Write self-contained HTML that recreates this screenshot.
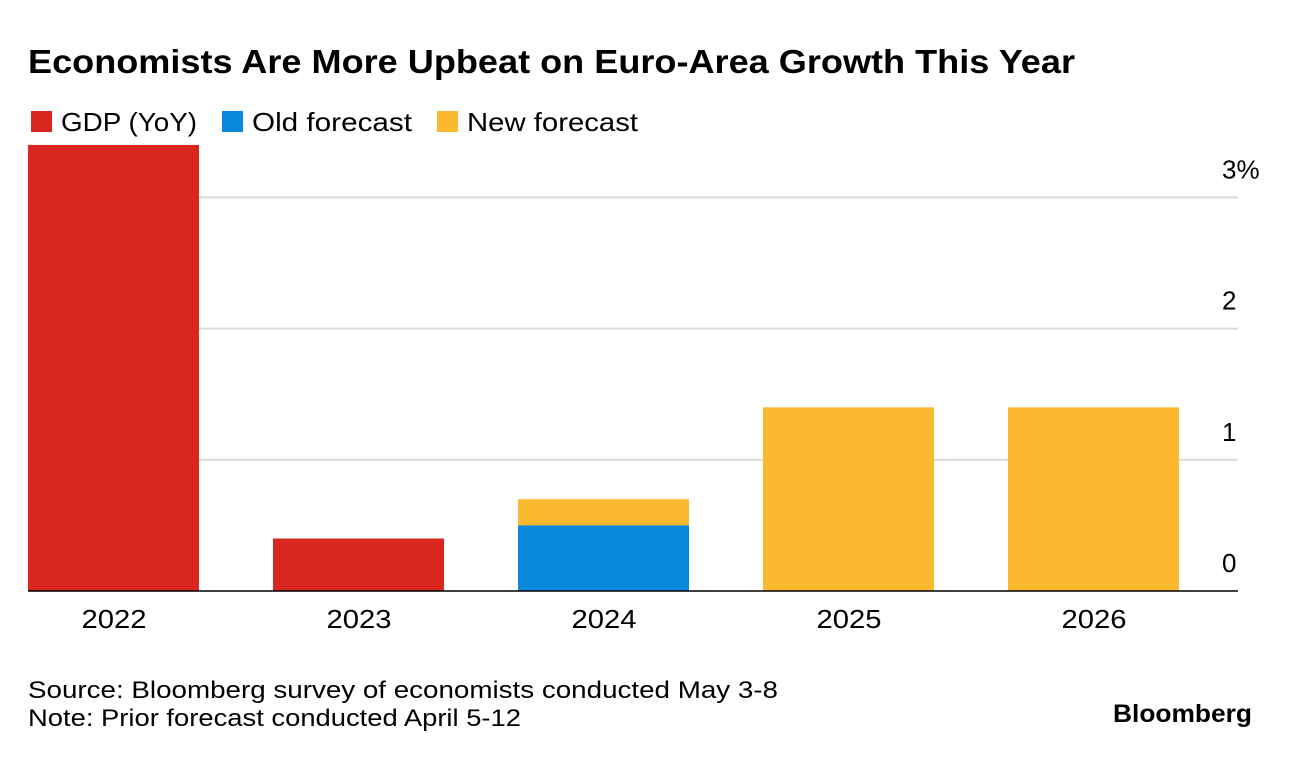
<!DOCTYPE html>
<html><head><meta charset="utf-8">
<style>
body{margin:0;background:#fff;width:1292px;height:756px;overflow:hidden;font-family:"Liberation Sans",sans-serif;}
</style></head>
<body>
<svg width="1292" height="756" xmlns="http://www.w3.org/2000/svg" font-family="Liberation Sans, sans-serif">
<text x="28" y="73" font-size="33" font-weight="bold" fill="#000" textLength="1047" lengthAdjust="spacingAndGlyphs">Economists Are More Upbeat on Euro-Area Growth This Year</text>
<g>
<rect x="31" y="111" width="21" height="21" fill="#d9261e"/>
<text x="61" y="131" font-size="26" fill="#000" textLength="136" lengthAdjust="spacingAndGlyphs">GDP (YoY)</text>
<rect x="222" y="111" width="21" height="21" fill="#0a88dd"/>
<text x="252" y="131" font-size="26" fill="#000" textLength="160" lengthAdjust="spacingAndGlyphs">Old forecast</text>
<rect x="437" y="111" width="21" height="21" fill="#fbb930"/>
<text x="467" y="131" font-size="26" fill="#000" textLength="171" lengthAdjust="spacingAndGlyphs">New forecast</text>
</g>
<g id="grid"></g>
<g id="bars"></g>
<line x1="28" x2="1238" y1="591" y2="591" stroke="#000" stroke-width="1.5"/>
<g id="xl"></g>
<text x="28" y="698" font-size="24" fill="#000" textLength="750" lengthAdjust="spacingAndGlyphs">Source: Bloomberg survey of economists conducted May 3-8</text>
<text x="28" y="726" font-size="24" fill="#000" textLength="493" lengthAdjust="spacingAndGlyphs">Note: Prior forecast conducted April 5-12</text>
<text x="1113" y="722" font-size="25" font-weight="bold" fill="#000" textLength="139" lengthAdjust="spacingAndGlyphs">Bloomberg</text>
</svg>
<script>
const years=["2022","2023","2024","2025","2026"];
const gdp=[3.4,0.4,null,null,null];
const oldF=[null,null,0.5,null,null];
const newF=[null,null,0.7,1.4,1.4];
const ticks=[0,1,2,3];
const tickLabels=["0","1","2","3%"];
const NS="http://www.w3.org/2000/svg";
const y=v=>591-v*131.2;
const x=i=>28+i*245;
const bw=171;
function mk(t,a,p){const e=document.createElementNS(NS,t);for(const k in a)e.setAttribute(k,a[k]);p.appendChild(e);return e;}
const g=document.getElementById('grid');
ticks.forEach((t,i)=>{
 if(t>0){const l=mk('line',{x1:28,x2:1238,y1:y(t),y2:y(t),stroke:'#d9d9d9','stroke-width':2},g);
 
 }
 const tx=mk('text',{x:1222,y:y(t)-19,'font-size':26,fill:'#000'},g);
 tx.textContent=tickLabels[i];
 
 
});
const b=document.getElementById('bars');
function bar(v,i,c,n){if(v==null)return;const r=mk('rect',{x:x(i),y:y(v),width:bw,height:591-y(v),fill:c},b);
 
 }
years.forEach((yr,i)=>{
 bar(gdp[i],i,'#d9261e','bar-gdp-'+yr);
 bar(newF[i],i,'#fbb930','bar-new-forecast-'+yr);
 bar(oldF[i],i,'#0a88dd','bar-old-forecast-'+yr);
 const t=mk('text',{x:x(i)+bw/2-32,y:628,'font-size':26,fill:'#000',textLength:65,lengthAdjust:'spacingAndGlyphs'},document.getElementById('xl'));
 t.textContent=yr;
 
 
});
</script>
</body></html>
